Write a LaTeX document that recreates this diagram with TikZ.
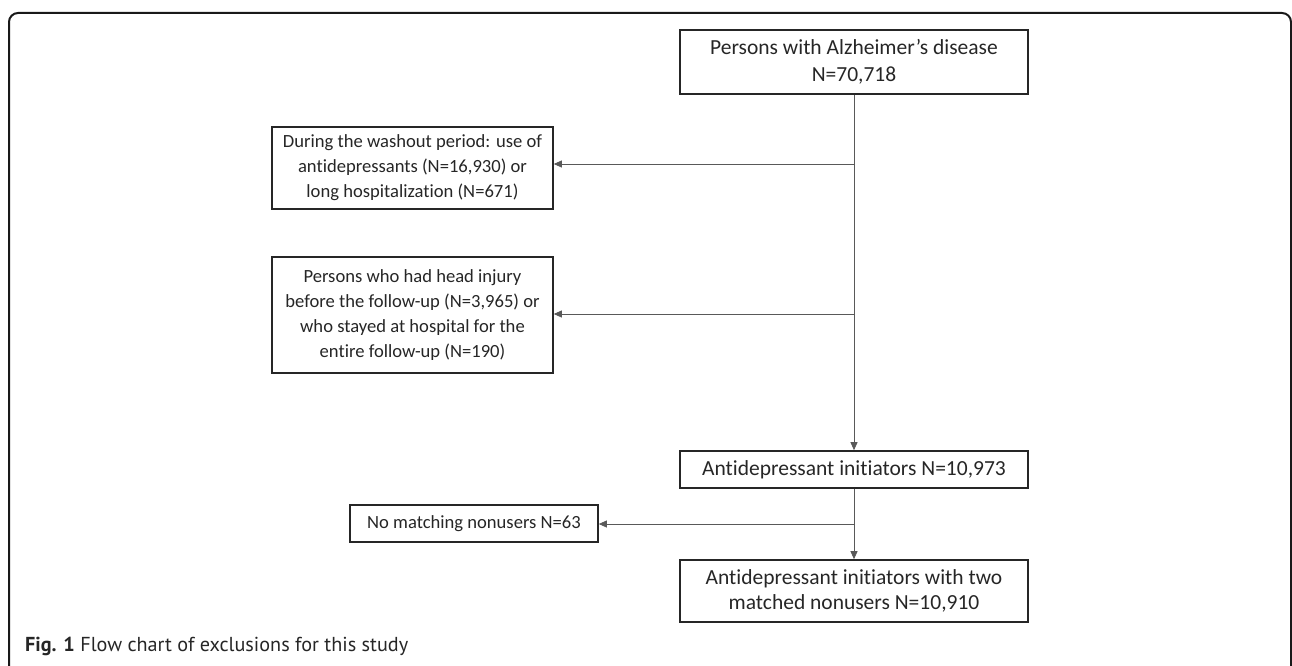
\documentclass[tikz,border=0pt]{standalone}
\usepackage{fontspec}
\setmainfont{Carlito}[Ligatures={NoCommon,NoContextual},RawFeature={-calt}]
\newfontfamily\capfont{PT Sans}
\usetikzlibrary{arrows.meta}
\begin{document}
\begin{tikzpicture}[x=1pt,y=-1pt,
  box/.style={draw=black!85,line width=1.6pt,align=center,inner sep=0pt,text=black!85},
  big/.style={font=\fontsize{21.5}{27.5}\selectfont},
  small/.style={font=\fontsize{18.6}{25}\selectfont},
  conn/.style={draw=black!65,line width=0.8pt},
  arr/.style={conn,-{Triangle[length=8pt,width=7pt]}}]
\useasboundingbox (0,0) rectangle (1292,666);
\draw[line width=2pt,rounded corners=9pt,black!90] (9,670) -- (9,13) -- (1291,13) -- (1291,670);
\node[box,big,minimum width=348pt,minimum height=64pt] (a) at (854,62) {Persons with Alzheimer’s disease\\N=70,718};
\node[box,small,minimum width=281pt,minimum height=82pt] (b) at (412.5,168) {During the washout period: use of\\antidepressants (N=16,930) or\\long hospitalization (N=671)};
\node[box,small,minimum width=281pt,minimum height=116pt] (c) at (412.5,315) {Persons who had head injury\\before the follow-up (N=3,965) or\\who stayed at hospital for the\\entire follow-up (N=190)};
\node[box,big,minimum width=348pt,minimum height=37pt] (d) at (854,469.5) {Antidepressant initiators N=10,973};
\node[box,small,minimum width=248pt,minimum height=37pt] (e) at (474,523.5) {No matching nonusers N=63};
\node[box,font=\fontsize{21.5}{25}\selectfont,minimum width=348pt,minimum height=62pt] (f) at (854,591) {Antidepressant initiators with two\\matched nonusers N=10,910};
\coordinate (j1) at (854,164);
\coordinate (j2) at (854,314);
\coordinate (j3) at (854,524);
\draw[arr] (a.south) -- (d.north);
\draw[arr] (j1) -- (b.east |- j1);
\draw[arr] (j2) -- (c.east |- j2);
\draw[arr] (d.south) -- (f.north);
\draw[arr] (j3) -- (e.east |- j3);
\node[anchor=base west,inner sep=0pt,font=\capfont\fontsize{20.2}{24}\selectfont,text=black!85] (cap) at (25,651) {\textbf{Fig. 1} Flow chart of exclusions for this study};
\end{tikzpicture}
\end{document}
